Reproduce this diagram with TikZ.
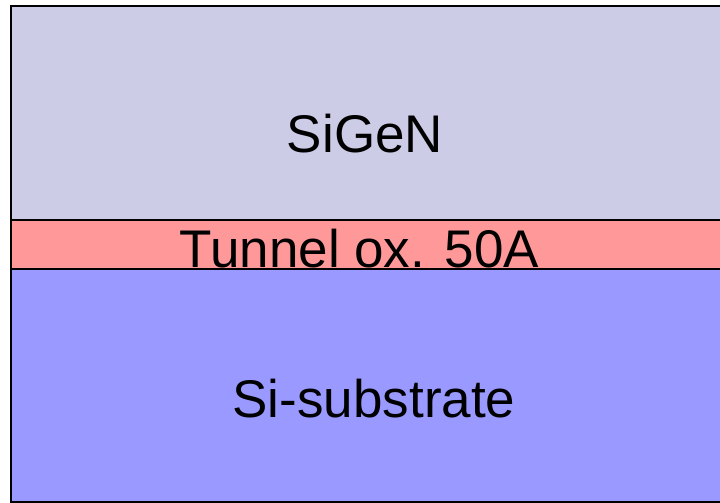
\documentclass[tikz,border=0pt]{standalone}
\usepackage{fontspec}
\setmainfont{Liberation Sans}
\definecolor{topc}{RGB}{204,204,230}
\definecolor{oxc}{RGB}{255,153,153}
\definecolor{subc}{RGB}{153,153,255}
\tikzset{layer/.style={draw=black,line width=2pt},
  lbl/.style={anchor=base,inner sep=0pt,font=\fontsize{53}{60}\selectfont}}
\begin{document}
\begin{tikzpicture}[x=1pt,y=-1pt]
\useasboundingbox (0,0) rectangle (720,503);
\fill[white] (0,0) rectangle (720,503);
\draw[layer,fill=topc] (10.5,6) rectangle (740,219.5);
\draw[layer,fill=oxc] (10.5,219.5) rectangle (740,269);
\draw[layer,fill=subc] (10.5,269) rectangle (740,501.5);
\node[lbl] (sigen) at (365,152) {SiGeN};
\node[lbl] (ox) at (359.5,267) {Tunnel ox. 50A};
\node[lbl] (sub) at (374,417) {Si-substrate};
\end{tikzpicture}
\end{document}
